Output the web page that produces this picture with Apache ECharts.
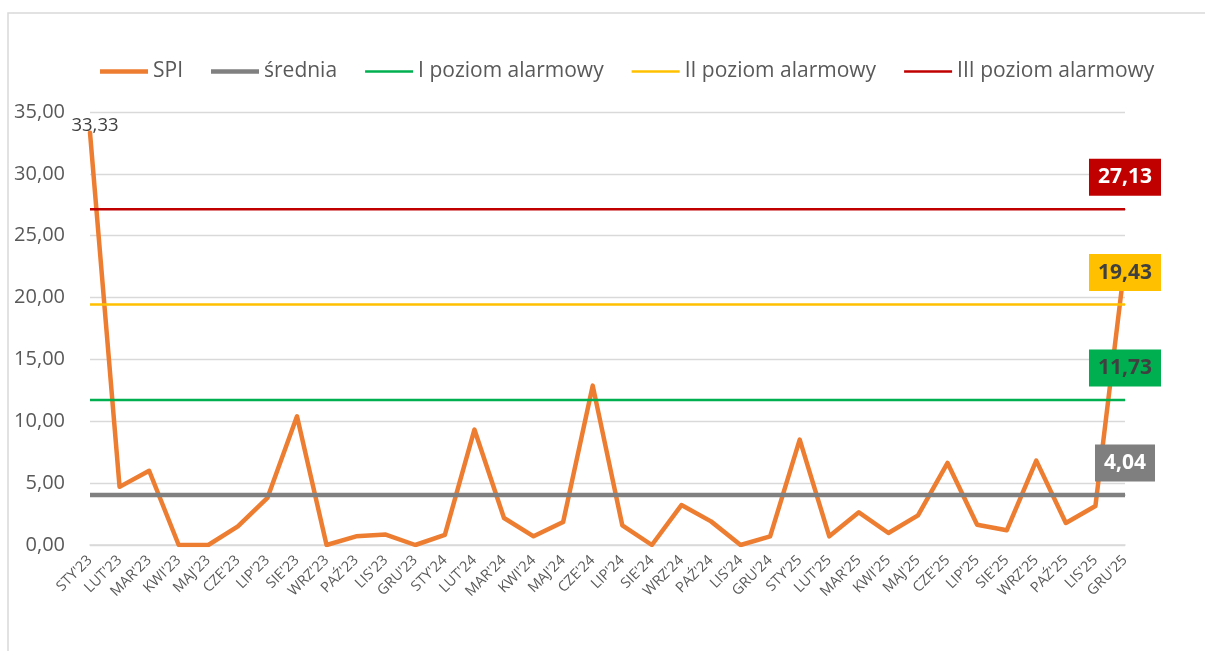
<!DOCTYPE html>
<html>
<head>
<meta charset="utf-8">
<script src="https://cdn.jsdelivr.net/npm/echarts@6/dist/echarts.min.js"></script>
<style>
  html, body { margin: 0; padding: 0; background: #fff; }
  #chart { width: 1205px; height: 651px; }
</style>
</head>
<body>
<div id="chart"></div>
<script>
  const months = [
    "STY'23", "LUT'23", "MAR'23", "KWI'23", "MAJ'23", "CZE'23", "LIP'23", "SIE'23", "WRZ'23", "PAŹ'23", "LIS'23", "GRU'23",
    "STY'24", "LUT'24", "MAR'24", "KWI'24", "MAJ'24", "CZE'24", "LIP'24", "SIE'24", "WRZ'24", "PAŹ'24", "LIS'24", "GRU'24",
    "STY'25", "LUT'25", "MAR'25", "KWI'25", "MAJ'25", "CZE'25", "LIP'25", "SIE'25", "WRZ'25", "PAŹ'25", "LIS'25", "GRU'25"
  ];
  const spi = [
    33.33, 4.7, 6.0, 0, 0, 1.5, 3.8, 10.4, 0, 0.7, 0.84, 0,
    0.81, 9.33, 2.18, 0.7, 1.86, 12.88, 1.59, 0, 3.23, 1.91, 0, 0.7,
    8.52, 0.7, 2.64, 0.97, 2.4, 6.63, 1.64, 1.19, 6.82, 1.78, 3.15, 22.9
  ];
  const average = 4.04;
  const level1 = 11.73;
  const level2 = 19.43;
  const level3 = 27.13;
  const yTicks = { min: 0, max: 35, interval: 5 };

  const FONT = "'Open Sans', sans-serif";
  const fmt = (v) => v.toFixed(2).replace(".", ",");
  const thickIcon = "path://M0,0H48V4.5H0Z";
  const thinIcon = "path://M0,0H48V2.5H0Z";

  function byId(id) {
    return document.getElementById(id);
  }

  // constant line with a boxed value label over its last point
  function levelSeries(name, value, color, width, boxColor, textColor) {
    const last = months.length - 1;
    return {
      name,
      type: "line",
      symbol: "none",
      z: 4,
      lineStyle: { color, width },
      itemStyle: { color },
      data: months.map((m, i) => i === last ? {
        value,
        symbol: "circle",
        symbolSize: 1,
        label: {
          show: true,
          position: "top",
          distance: 13,
          formatter: (p) => fmt(p.value),
          backgroundColor: boxColor,
          color: textColor,
          fontFamily: FONT,
          fontWeight: "bold",
          fontSize: 21,
          lineHeight: 23,
          padding: [7, 9]
        }
      } : value)
    };
  }

  const chart = echarts.init(byId("chart"), null, { renderer: "canvas" });

  chart.setOption({
    backgroundColor: "#ffffff",
    animation: false,
    textStyle: { fontFamily: FONT },
    graphic: [
      {
        type: "rect",
        shape: { x: 8, y: 13, width: 1400, height: 800 },
        style: { fill: "none", stroke: "#D9D9D9", lineWidth: 1.5 },
        silent: true
      }
    ],
    legend: {
      left: 95,
      top: 56,
      itemWidth: 48,
      itemHeight: 14,
      itemGap: 28,
      textStyle: { color: "#595959", fontSize: 21, fontFamily: FONT },
      data: [
        { name: "SPI", icon: thickIcon },
        { name: "średnia", icon: thickIcon },
        { name: "I poziom alarmowy", icon: thinIcon },
        { name: "II poziom alarmowy", icon: thinIcon },
        { name: "III poziom alarmowy", icon: thinIcon }
      ]
    },
    grid: { left: 90, right: 80, top: 112, bottom: 106, containLabel: false },
    xAxis: {
      type: "category",
      data: months,
      boundaryGap: false,
      axisLine: { lineStyle: { color: "#D9D9D9", width: 1.5 } },
      axisTick: { show: false },
      axisLabel: {
        interval: 0,
        rotate: 45,
        margin: 13,
        color: "#595959",
        fontSize: 14.5,
        fontFamily: FONT
      }
    },
    yAxis: {
      type: "value",
      min: yTicks.min,
      max: yTicks.max,
      interval: yTicks.interval,
      axisLine: { show: false },
      axisTick: { show: false },
      splitLine: { lineStyle: { color: "#D9D9D9", width: 1.3 } },
      axisLabel: {
        formatter: fmt,
        color: "#595959",
        fontSize: 20,
        margin: 25,
        fontFamily: FONT
      }
    },
    series: [
      {
        name: "SPI",
        type: "line",
        symbol: "none",
        z: 3,
        lineStyle: { color: "#ED7D31", width: 4.5, cap: "round", join: "round" },
        itemStyle: { color: "#ED7D31" },
        data: spi.map((v, i) => i === 0 ? {
          value: v,
          symbol: "circle",
          symbolSize: 1,
          label: {
            show: true,
            position: "top",
            distance: 0,
            offset: [5, 3],
            formatter: (p) => fmt(p.value),
            color: "#404040",
            fontSize: 18.5,
            fontFamily: FONT
          }
        } : v)
      },
      levelSeries("średnia", average, "#808080", 4.5, "#7F7F7F", "#ffffff"),
      levelSeries("I poziom alarmowy", level1, "#00B050", 2.5, "#00B050", "#404040"),
      levelSeries("II poziom alarmowy", level2, "#FFC000", 2.5, "#FFC000", "#404040"),
      levelSeries("III poziom alarmowy", level3, "#C00000", 2.5, "#C00000", "#ffffff")
    ]
  });

  window.addEventListener("resize", () => chart.resize());
</script>
</body>
</html>
